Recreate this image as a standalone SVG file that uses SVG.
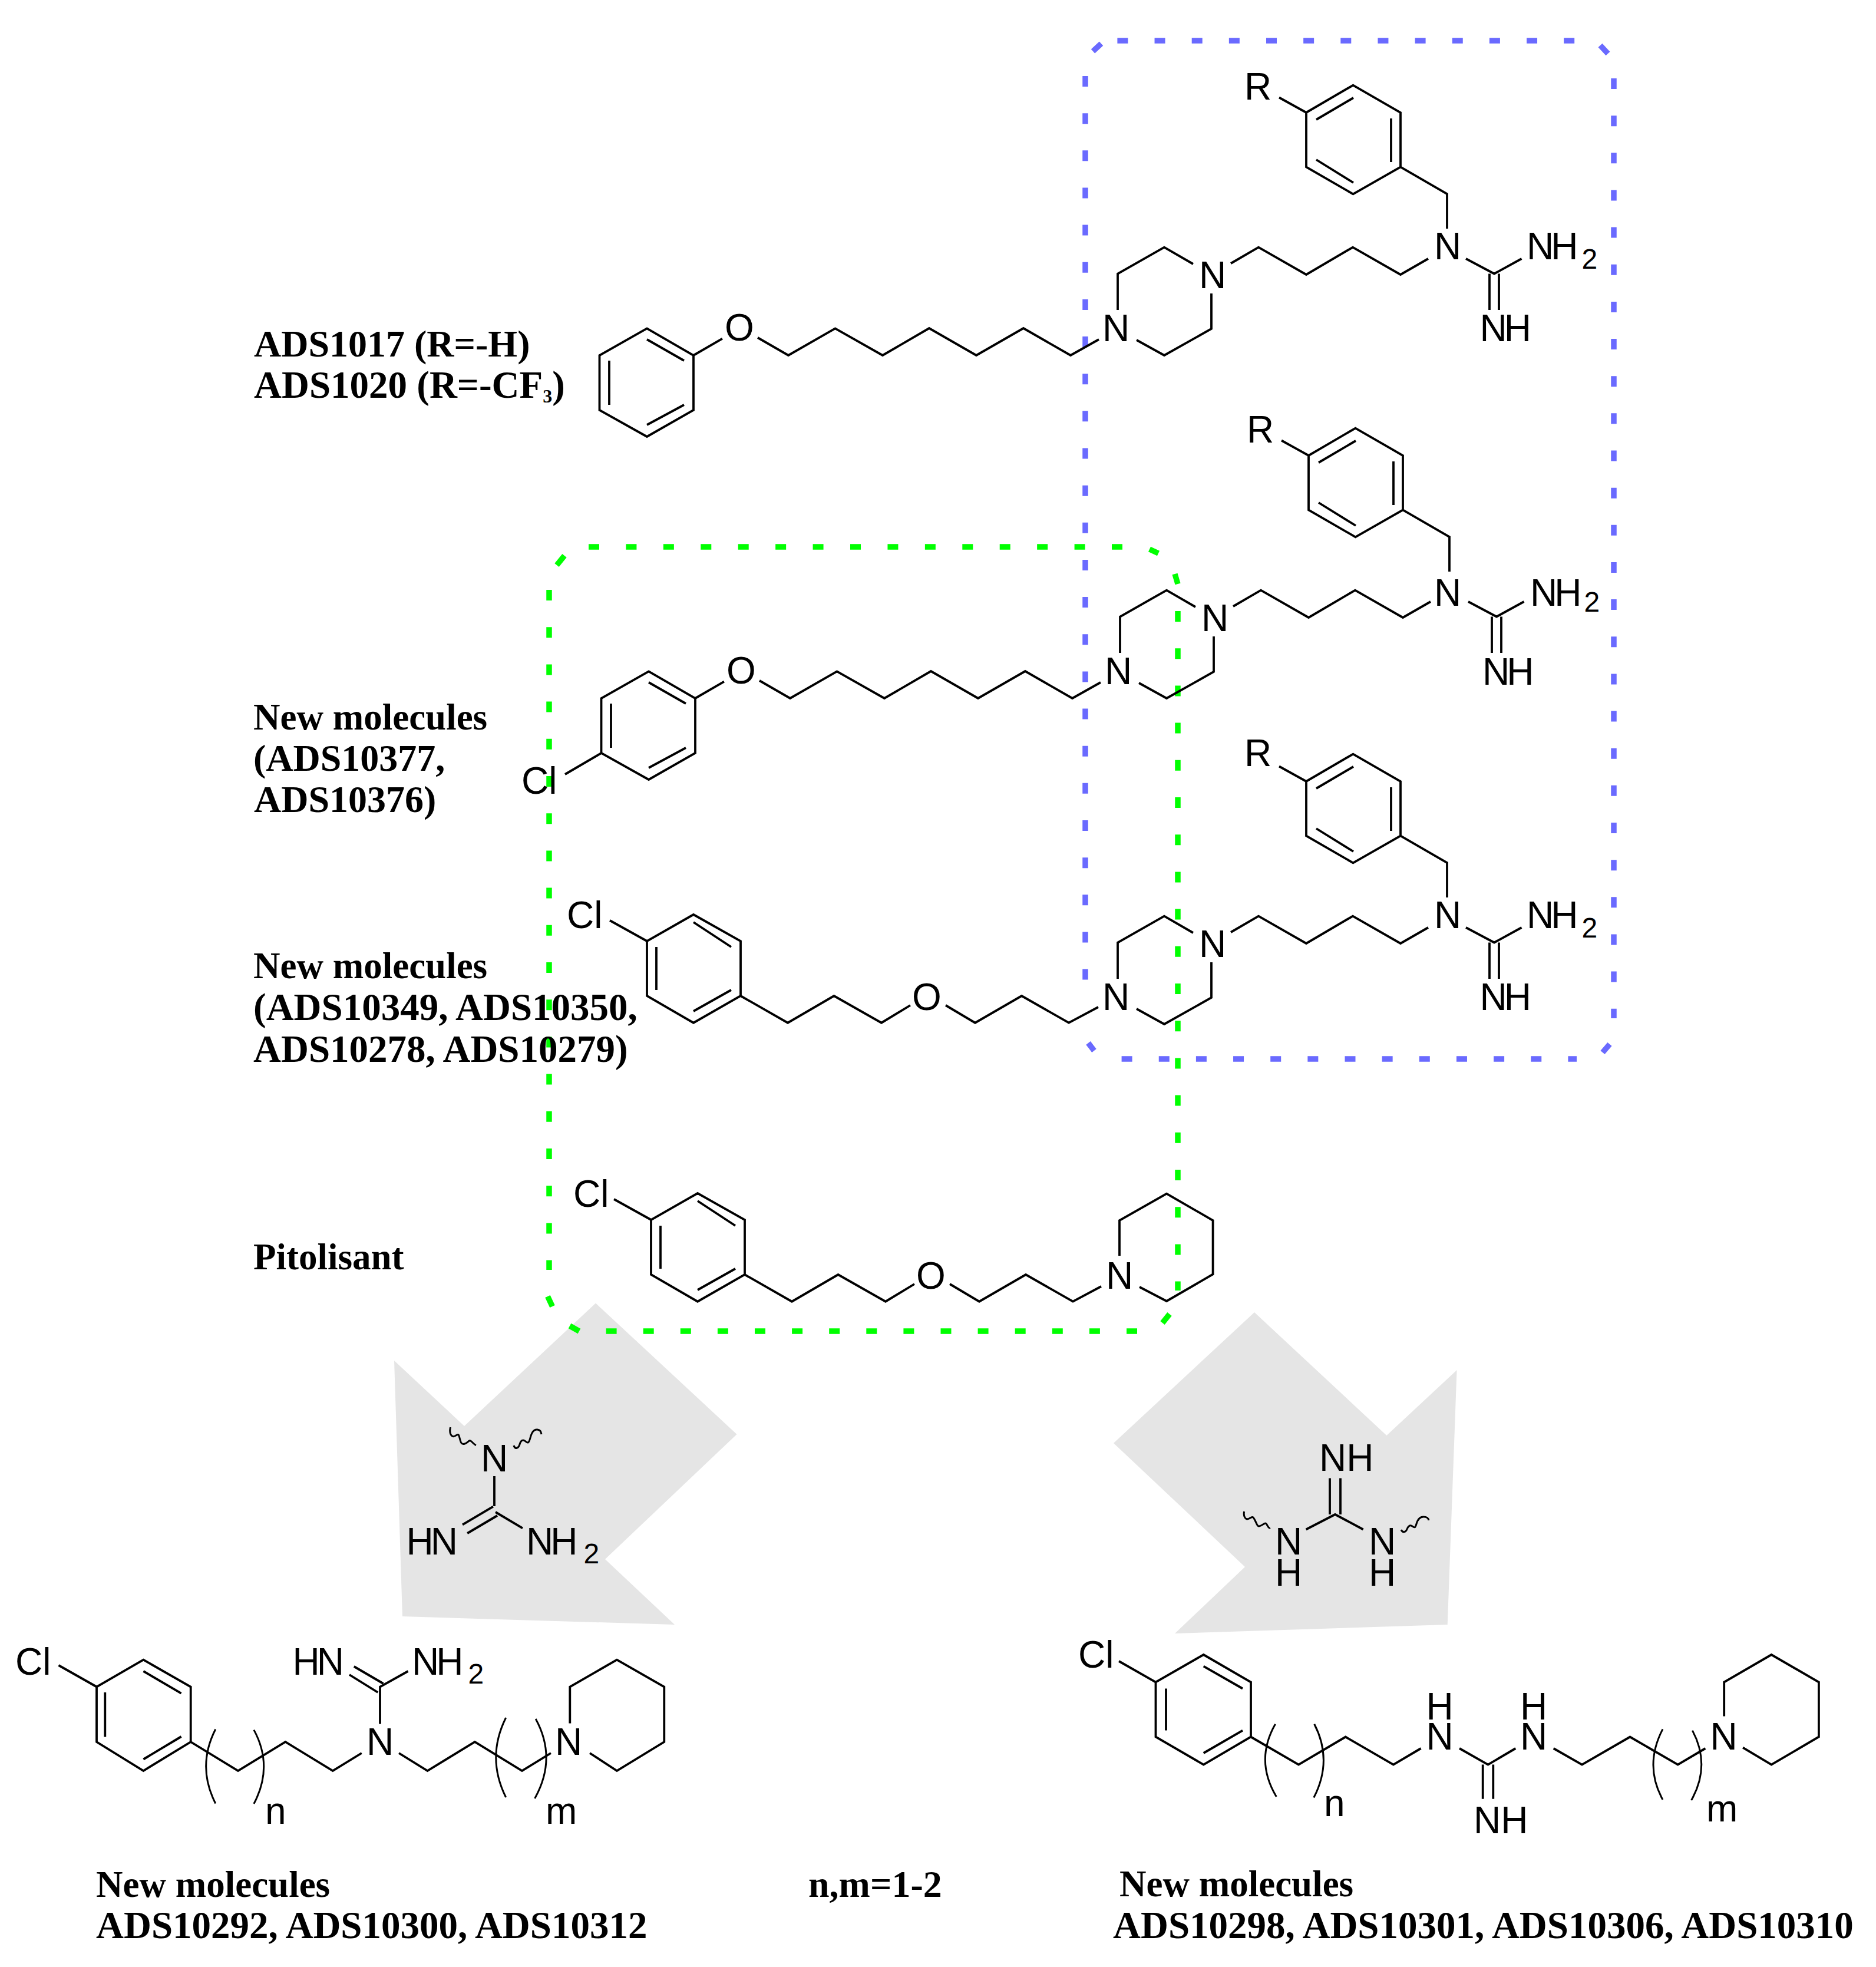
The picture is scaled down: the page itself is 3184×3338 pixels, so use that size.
<svg xmlns="http://www.w3.org/2000/svg" width="3184" height="3338" viewBox="0 0 3184 3338">
<style>
.b{fill:none;stroke:#000;stroke-width:3.8;stroke-linejoin:miter;stroke-linecap:butt}
.w{fill:none;stroke:#000;stroke-width:3}
.c{font-family:"Liberation Sans",Arial,sans-serif;font-size:64px;fill:#000}
.t{letter-spacing:-5px}
.m{text-anchor:middle}
.s{font-family:"Liberation Sans",Arial,sans-serif;font-size:48px;fill:#000}
.l{font-family:"Liberation Serif","Times New Roman",serif;font-size:64px;font-weight:bold;fill:#000}
.n{font-size:63px}
.d{font-size:65px}
.lb{fill:none;stroke:#6a6aff;stroke-width:9.5;stroke-dasharray:18 45.15}
.lg{fill:none;stroke:#00ff00;stroke-width:9.5;stroke-dasharray:18 45.2}
.a{fill:#e5e5e5}
</style>
<rect width="3184" height="3338" fill="#fff"/>
<g id="arrows">
<polygon class="a" points="1011,2211.5 1250.5,2434 1027,2646 1145,2757 683,2743 669,2309 788,2420"/>
<polygon class="a" points="2129,2227 2353.4,2436 2472.6,2325 2456.7,2757 1994,2772 2113,2659 1890,2449"/>
</g>
<g id="box-blue">
<path class="lb" d="M1896.4 69H2673"/>
<path class="lb" d="M2739 133V1728"/>
<path class="lb" d="M1842 129V1664"/>
<path class="lb" d="M1903.6 1797H2676"/>
<path class="lb" style="stroke-dasharray:none" d="M1855 87L1869 74M2716 77L2729 91M1847 1770L1857 1783M2732 1772L2720 1786"/>
</g>
<g id="box-green">
<path class="lg" d="M999 928H1905" style="stroke-dasharray:18 45.43"/>
<path class="lg" d="M1999 1037V2190"/>
<path class="lg" d="M932 1001V2155"/>
<path class="lg" d="M1028.6 2259H1930" style="stroke-dasharray:18 45.1"/>
<path class="lg" style="stroke-dasharray:none" d="M958 943L945 959M1951 932L1966 939M1994 974L1999 991M1985 2230L1973 2245M929.5 2200L937.5 2217M967 2250L983 2259"/>
</g>
<g id="mol-1-right">
<path class="b" d="M2171 165.5L2217 191L2296.5 144.6L2377 191V283.4L2296.5 329.3L2217 283.4V191M2234 203L2297 166M2361 201V275M2234 271L2297 310M2377 283.4L2456 329V388"/>
<path class="b" d="M1897 526V464.5L1976 419.6L2025 448M2056 498V558L1976 603L1929 577M2089 447L2136 419.6L2217 466L2296 419.6L2377 466L2424 439M2488 439L2536 464.5L2582.5 439M2528 464.5V526M2544 464.5V526"/>
<text class="c m" x="2135" y="169">R</text>
<text class="c m" x="1894" y="579">N</text>
<text class="c m" x="2058" y="489">N</text>
<text class="c m" x="2457" y="440">N</text>
<text class="c t" x="2591" y="440">NH</text><text class="s" x="2684.5" y="456">2</text>
<text class="c t" x="2511.5" y="579">NH</text>
</g>
<g id="mol-1-left">
<path class="b" d="M1098 557.4L1177 603V696L1098 741L1017.5 696V603ZM1098 576L1161 612M1034 612V687M1098 721L1161 687M1177 603L1226 574.6M1286 573L1338 603L1417.5 557.4L1498 603L1577 557L1657 603L1737 557L1817 603L1865 576"/>
<text class="c m" x="1255" y="578">O</text>
</g>
<g id="mol-2-right" transform="translate(4 582)">
<path class="b" d="M2171 165.5L2217 191L2296.5 144.6L2377 191V283.4L2296.5 329.3L2217 283.4V191M2234 203L2297 166M2361 201V275M2234 271L2297 310M2377 283.4L2456 329V388"/>
<path class="b" d="M1897 526V464.5L1976 419.6L2025 448M2056 498V558L1976 603L1929 577M2089 447L2136 419.6L2217 466L2296 419.6L2377 466L2424 439M2488 439L2536 464.5L2582.5 439M2528 464.5V526M2544 464.5V526"/>
<text class="c m" x="2135" y="169">R</text>
<text class="c m" x="1894" y="579">N</text>
<text class="c m" x="2058" y="489">N</text>
<text class="c m" x="2453" y="446">N</text>
<text class="c t" x="2593" y="446">NH</text><text class="s" x="2684.5" y="456">2</text>
<text class="c t" x="2512" y="580">NH</text>
</g>
<g id="mol-2-left" transform="translate(3 582)">
<path class="b" d="M1098 557.4L1177 603V696L1098 741L1017.5 696V603ZM1098 576L1161 612M1034 612V687M1098 721L1161 687M1177 603L1226 574.6M1286 573L1338 603L1417.5 557.4L1498 603L1577 557L1657 603L1737 557L1817 603L1865 576M956 732L1017.5 696"/>
<text class="c m" x="1255" y="578">O</text>
<text class="c" x="882" y="765">Cl</text>
</g>
<g id="mol-3-right" transform="translate(0 1135)">
<path class="b" d="M2171 165.5L2217 191L2296.5 144.6L2377 191V283.4L2296.5 329.3L2217 283.4V191M2234 203L2297 166M2361 201V275M2234 271L2297 310M2377 283.4L2456 329V388"/>
<path class="b" d="M1897 526V464.5L1976 419.6L2025 448M2056 498V558L1976 603L1929 577M2089 447L2136 419.6L2217 466L2296 419.6L2377 466L2424 439M2488 439L2536 464.5L2582.5 439M2528 464.5V526M2544 464.5V526"/>
<text class="c m" x="2135" y="165">R</text>
<text class="c m" x="1894" y="579">N</text>
<text class="c m" x="2058" y="489">N</text>
<text class="c m" x="2457" y="440">N</text>
<text class="c t" x="2591" y="440">NH</text><text class="s" x="2684.5" y="456">2</text>
<text class="c t" x="2511.5" y="579">NH</text>
</g>
<g id="mol-3-left" transform="translate(-7 -473)">
<path class="b" d="M1184 2025L1264 2070V2163L1184 2208.7L1105 2163V2070ZM1184 2038L1248 2080M1121 2080V2153M1184 2189L1248 2153M1042 2035L1105 2070M1264 2163L1344 2208.7L1422.5 2163L1503 2208.7L1552 2179M1612 2179L1662 2208.7L1741 2163L1821 2208.7L1871 2182"/>
<text class="c m" x="1580" y="2187">O</text>
<text class="c" x="969" y="2048">Cl</text>
</g>
<g id="pitolisant">
<path class="b" d="M1184 2025L1264 2070V2163L1184 2208.7L1105 2163V2070ZM1184 2038L1248 2080M1121 2080V2153M1184 2189L1248 2153M1042 2035L1105 2070M1264 2163L1344 2208.7L1422.5 2163L1503 2208.7L1552 2179M1612 2179L1662 2208.7L1741 2163L1821 2208.7L1869 2183M1900 2131V2071L1980 2025.7L2058.6 2071V2162.5L1980 2208L1934 2184"/>
<text class="c m" x="1580" y="2187">O</text>
<text class="c m" x="1900" y="2187">N</text>
<text class="c" x="973" y="2048">Cl</text>
</g>
<g id="fragment-left">
<path class="b" d="M839 2505V2556M785 2587.3L837 2556.7M793.2 2602L844 2572M841 2566L887 2593.4"/>
<path class="w" d="M764.5 2422C762 2432 766 2440 772 2437S778 2432 780 2440S783 2452 789 2450S796 2442 800 2446S806 2452 808 2452.6M872 2453C874 2460 880 2458 882 2451S888 2442 892 2446S898 2448 900 2440S906 2425 912 2426S918 2430 919 2434"/>
<text class="c m" x="839" y="2497">N</text>
<text class="c t" x="689.5" y="2638">HN</text>
<text class="c t" x="893" y="2638">NH</text><text class="s" x="990.5" y="2653">2</text>
</g>
<g id="fragment-right">
<path class="b" d="M2257 2508.4V2570M2275 2508.4V2570M2216.6 2595.5L2266 2570L2313.7 2595.5"/>
<path class="w" d="M2111.6 2565C2110 2574 2114 2580 2120 2577S2126 2572 2130 2580S2134 2592 2140 2589S2148 2583 2150 2587S2154 2594 2156 2593M2378 2596C2381 2602 2386 2600 2388 2595S2393 2587 2397 2590S2402 2593 2404 2586S2410 2574 2416 2574S2424 2576 2425 2580"/>
<text class="c" x="2239" y="2496">NH</text>
<text class="c m" x="2187" y="2638">N</text>
<text class="c m" x="2187" y="2691">H</text>
<text class="c m" x="2346" y="2638">N</text>
<text class="c m" x="2346" y="2691">H</text>
</g>
<g id="product-left">
<path class="b" d="M99.5 2826L164 2862.5M243.4 2816.7L323.7 2862.5V2956L243.4 3005L164 2956V2862.5ZM243.4 2836L307.6 2873.7M178.3 2872V2947.6M243.4 2985.5L307.6 2947M323.7 2956L404 3005L484.4 2956L564.8 3005L613.8 2975M645 2925.5V2862.5L692.6 2836M600.8 2828L650.5 2857M593 2842L641.3 2872M677 2975L725.5 3005L805.9 2956L886 3005L935 2975M967.3 2924.4V2862.5L1047 2816.7L1127.3 2862.5V2956L1047 3005L1001 2975"/>
<path class="w" d="M365.8 2934.5Q333.6 2997.5 365.8 3060.5M430.9 2935.6Q464.5 2997.5 430.9 3061M858.6 2915Q825 2982.5 858.6 3050M909.2 2917Q945.8 2984 907.6 3052"/>
<text class="c" x="26" y="2842">Cl</text>
<text class="c t" x="496.5" y="2842">HN</text>
<text class="c t" x="699" y="2842">NH</text><text class="s" x="794.5" y="2857">2</text>
<text class="c m" x="645" y="2978">N</text>
<text class="c m" x="965" y="2978">N</text>
<text class="c" x="450" y="3095">n</text>
<text class="c" x="926" y="3095">m</text>
</g>
<g id="product-right">
<path class="b" d="M1899 2819L1961.5 2854.6M2042.7 2808L2123 2854.6V2947.5L2042.7 2994.6L1961.5 2947.5V2854.6ZM2042.7 2827.7L2109 2865.5M1979 2865.5V2936.6M2042.7 2975L2109 2936.6M2123 2947.5L2204 2994.6L2283.7 2947.5L2364.9 2994.6L2411.6 2967M2477 2967L2525.5 2994.6L2572.3 2967M2516.7 2994.6V3052.7M2534.3 2994.6V3052.7M2636.7 2967L2685 2994.6L2766.5 2947.5L2847.7 2994.6L2894.4 2967M2926.2 2912.6V2854.6L3006.5 2808L3086.9 2854.6V2947.5L3006.5 2994.6L2958 2965.6"/>
<path class="w" d="M2164.5 2925.7Q2129.3 2987.4 2166.3 3049M2230.7 2925.7Q2262.5 2987.4 2229.8 3050.5M2822 2934.4Q2790 2996 2822 3054M2872.4 2936.6Q2904 2996 2870.6 3055"/>
<text class="c" x="1830" y="2830">Cl</text>
<text class="c m" x="2443.5" y="2969">N</text>
<text class="c m" x="2443.5" y="2918">H</text>
<text class="c m" x="2603" y="2969">N</text>
<text class="c m" x="2603" y="2918">H</text>
<text class="c m" x="2925.5" y="2969">N</text>
<text class="c" x="2501" y="3111">NH</text>
<text class="c" x="2247" y="3082">n</text>
<text class="c" x="2896" y="3091">m</text>
</g>
<g id="labels">
<text class="l" x="431" y="605">ADS1017 (R=-H)</text>
<text class="l d" x="431" y="675">ADS1020 (R=-CF<tspan font-size="32" dy="8">3</tspan><tspan dy="-8">)</tspan></text>
<text class="l n" x="430" y="1238">New molecules</text>
<text class="l" x="430" y="1308">(ADS10377,</text>
<text class="l" x="431" y="1378">ADS10376)</text>
<text class="l n" x="430" y="1660">New molecules</text>
<text class="l d" x="430" y="1731">(ADS10349, ADS10350,</text>
<text class="l d" x="430" y="1802">ADS10278, ADS10279)</text>
<text class="l n" x="430" y="2154">Pitolisant</text>
<text class="l n" x="163" y="3219">New molecules</text>
<text class="l d" x="163" y="3289">ADS10292, ADS10300, ADS10312</text>
<text class="l" x="1372" y="3219">n,m=1-2</text>
<text class="l n" x="1900" y="3218">New molecules</text>
<text class="l d" x="1889" y="3289">ADS10298, ADS10301, ADS10306, ADS10310</text>
</g>
</svg>
